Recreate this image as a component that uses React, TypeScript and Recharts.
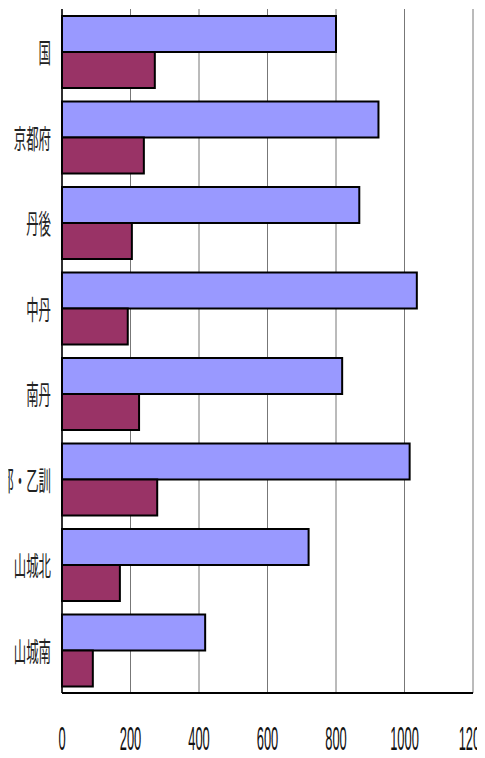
import { BarChart, Bar, XAxis, YAxis, CartesianGrid } from "recharts";

const categories = ["国", "京都府", "丹後", "中丹", "南丹", "京都・乙訓", "山城北", "山城南"];
const blueValues = [800, 924, 868, 1036, 818, 1015, 720, 418];
const maroonValues = [271, 239, 204, 192, 225, 278, 169, 90];
const xTicks = [0, 200, 400, 600, 800, 1000, 1200];

const data = categories.map((name, i) => ({ name, a: blueValues[i], b: maroonValues[i] }));

// labels in the source are tall and very narrow, so squeeze them horizontally
const YTick = ({ x, y, payload }: any) => (
  <text
    transform={`translate(${x - 3},${y}) scale(0.46,1)`}
    textAnchor="end"
    dominantBaseline="central"
    fontSize={27}
    fontFamily="'Noto Sans CJK JP', sans-serif"
    fill="#222"
  >
    {payload.value}
  </text>
);

const XTick = ({ x, y, payload }: any) => (
  <text
    transform={`translate(${x},${y + 37}) scale(0.38,1)`}
    textAnchor="middle"
    dominantBaseline="central"
    fontSize={34}
    fontFamily="'Liberation Sans', Arial, sans-serif"
    fill="#111"
  >
    {payload.value}
  </text>
);

export default function App() {
  return (
    <div style={{ margin: -8, width: 485, height: 758, background: "#fff" }}>
      <BarChart
        width={485}
        height={758}
        data={data}
        layout="vertical"
        margin={{ top: 9, right: 12, bottom: 0, left: 0 }}
        barCategoryGap={7}
        barGap={0}
      >
        <CartesianGrid horizontal={false} stroke="#777" strokeWidth={1} />
        <XAxis
          type="number"
          domain={[0, 1200]}
          ticks={xTicks}
          height={65}
          axisLine={{ stroke: "#000", strokeWidth: 2 }}
          tickLine={false}
          tick={<XTick />}
          interval={0}
        />
        <XAxis
          xAxisId="top"
          type="number"
          orientation="top"
          domain={[0, 1200]}
          height={0}
          tick={false}
          tickLine={false}
          axisLine={{ stroke: "#888", strokeWidth: 1 }}
        />
        <YAxis
          type="category"
          dataKey="name"
          width={62}
          axisLine={{ stroke: "#000", strokeWidth: 1.5 }}
          tickLine={false}
          tick={<YTick />}
          interval={0}
        />
        <Bar dataKey="a" fill="#9999FF" stroke="#000" strokeWidth={2} isAnimationActive={false} />
        <Bar dataKey="b" fill="#993366" stroke="#000" strokeWidth={2} isAnimationActive={false} />
      </BarChart>
    </div>
  );
}
